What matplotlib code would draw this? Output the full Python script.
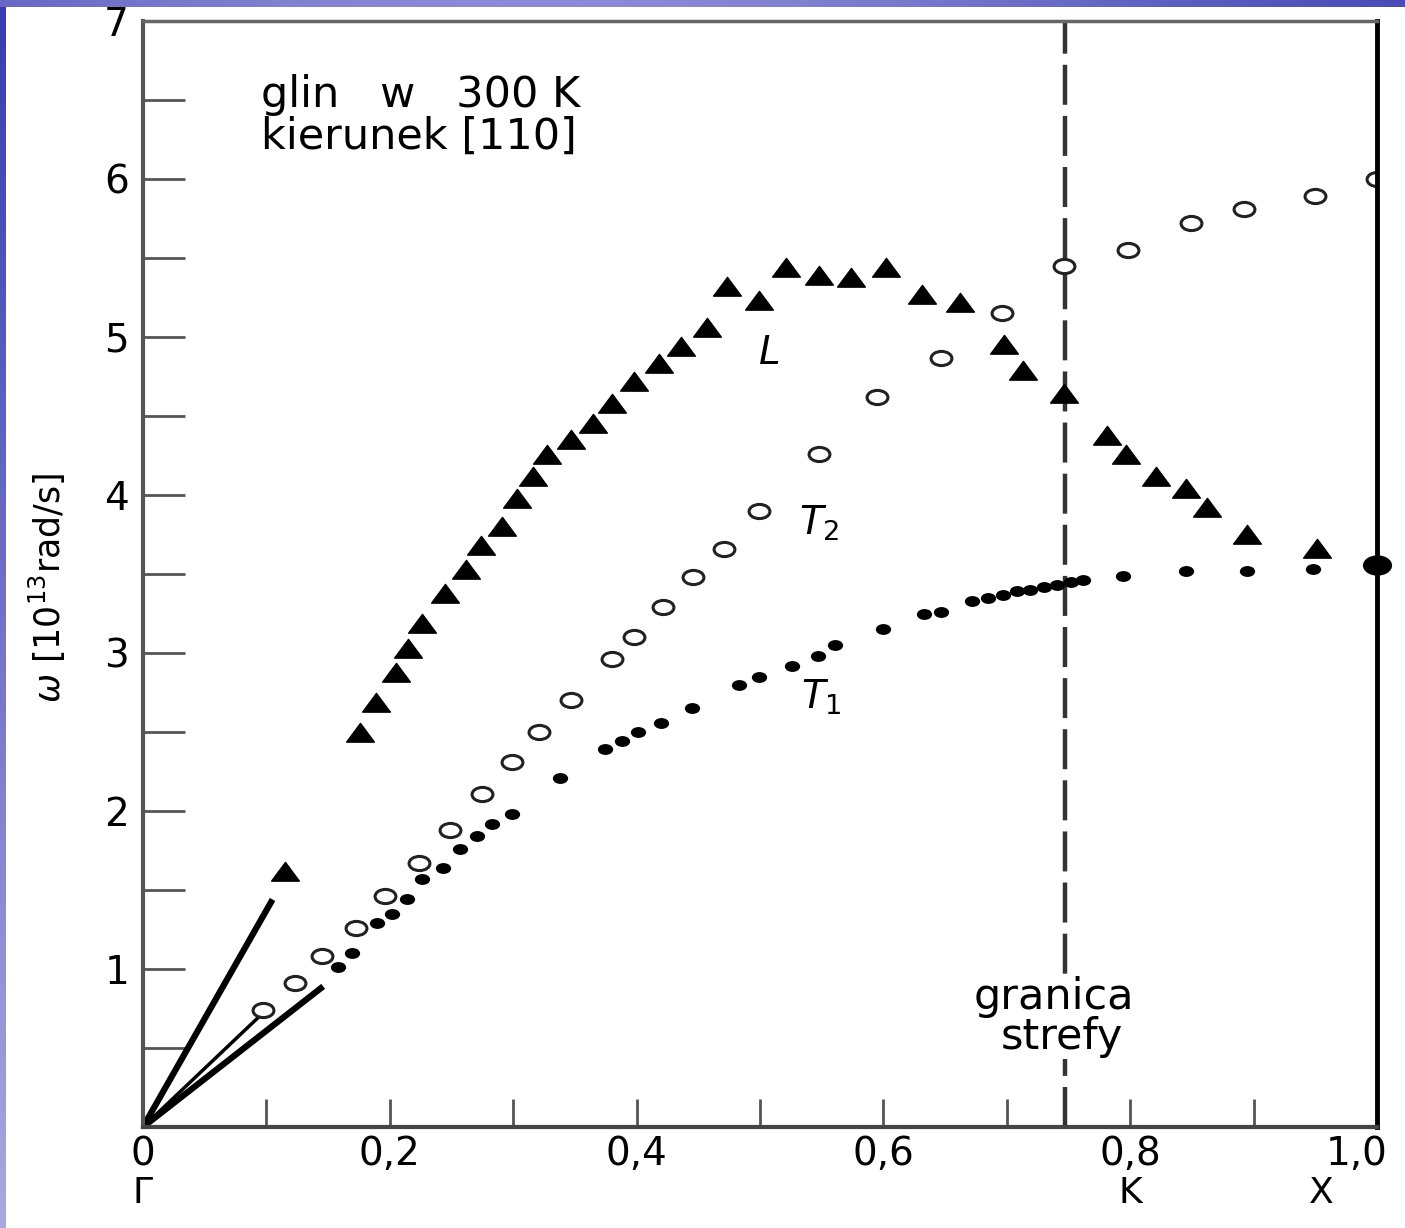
import matplotlib
matplotlib.use("Agg")
from matplotlib import pyplot as plt
from matplotlib.path import Path
from matplotlib.transforms import ScaledTranslation
import numpy as np

# reduced wave vector q and frequency omega [10^13 rad/s]
q_L = [0.115, 0.176, 0.189, 0.205, 0.215, 0.226, 0.245, 0.262, 0.274, 0.291,
       0.303, 0.316, 0.327, 0.347, 0.365, 0.380, 0.398, 0.418, 0.436, 0.457,
       0.473, 0.499, 0.521, 0.548, 0.574, 0.602, 0.631, 0.662, 0.698, 0.713,
       0.746, 0.781, 0.797, 0.821, 0.845, 0.862, 0.895, 0.951]
w_L = [1.61, 2.49, 2.68, 2.87, 3.02, 3.18, 3.37, 3.52, 3.67, 3.79,
       3.97, 4.11, 4.25, 4.34, 4.44, 4.57, 4.71, 4.82, 4.93, 5.05,
       5.31, 5.22, 5.43, 5.38, 5.37, 5.43, 5.26, 5.21, 4.94, 4.78,
       4.63, 4.37, 4.25, 4.11, 4.03, 3.91, 3.74, 3.65]

q_T2 = [0.097, 0.123, 0.145, 0.173, 0.196, 0.224, 0.249, 0.275, 0.299, 0.321,
        0.347, 0.380, 0.398, 0.421, 0.446, 0.471, 0.499, 0.548, 0.595, 0.647,
        0.696, 0.746, 0.798, 0.849, 0.892, 0.950, 1.000]
w_T2 = [0.74, 0.91, 1.08, 1.26, 1.46, 1.67, 1.88, 2.11, 2.31, 2.50,
        2.70, 2.96, 3.10, 3.29, 3.48, 3.66, 3.90, 4.26, 4.62, 4.87,
        5.15, 5.45, 5.55, 5.72, 5.81, 5.89, 6.00]

q_T1 = [0.158, 0.169, 0.190, 0.202, 0.214, 0.226, 0.243, 0.257, 0.271, 0.283,
        0.299, 0.338, 0.374, 0.388, 0.401, 0.420, 0.445, 0.483, 0.499, 0.526,
        0.547, 0.561, 0.600, 0.633, 0.647, 0.672, 0.685, 0.697, 0.708, 0.719,
        0.730, 0.741, 0.752, 0.762, 0.794, 0.845, 0.895, 0.948]
w_T1 = [1.01, 1.10, 1.29, 1.35, 1.44, 1.57, 1.64, 1.76, 1.84, 1.92,
        1.98, 2.21, 2.39, 2.44, 2.50, 2.56, 2.65, 2.80, 2.85, 2.92,
        2.98, 3.05, 3.15, 3.25, 3.26, 3.33, 3.35, 3.37, 3.39, 3.40,
        3.42, 3.43, 3.45, 3.46, 3.49, 3.52, 3.52, 3.53]

# point X where L and T1 meet
q_X = [1.0]
w_X = [3.56]

# initial slopes (sound velocity lines) drawn from Gamma
slope_ends_q = [0.105, 0.097, 0.146]
slope_ends_w = [1.44, 0.72, 0.89]
slope_widths = [4.5, 2.5, 4.5]

zone_edge = 0.747
x_ticks = [0, 0.2, 0.4, 0.6, 0.8, 1.0]
x_labels = ["0", "0,2", "0,4", "0,6", "0,8", "1,0"]
y_ticks = [1, 2, 3, 4, 5, 6, 7]

W, H = 1405, 1228
fig = plt.figure(figsize=(W / 100, H / 100), dpi=100)
fig.patch.set_facecolor("white")

# blue slide border (thin top band and left strip)
top = fig.add_axes([0, 1 - 7 / H, 1, 7 / H])
grad = np.linspace(0, 1, 256)
top.imshow(np.vstack([np.sin(grad * np.pi * 1.3) * 0.5 + 0.5] * 2),
           aspect="auto", cmap=matplotlib.colors.LinearSegmentedColormap.from_list(
               "b", ["#4c4cb8", "#8a8ad6"]))
top.axis("off")
left = fig.add_axes([0, 0, 6 / W, 1 - 7 / H])
left.imshow(np.linspace(0, 1, 64)[:, None], aspect="auto",
            cmap=matplotlib.colors.LinearSegmentedColormap.from_list(
                "l", ["#3c3cb0", "#a8a8e0"]))
left.axis("off")

ax = fig.add_axes([143 / W, (H - 1127) / H, (1377 - 143) / W, (1127 - 21) / H])
ax.set_xlim(0, 1.0)
ax.set_ylim(0, 7)

# squashed marker shapes like the scanned original
circ = Path.unit_circle()
ellipse = Path(circ.vertices * [1, 0.68], circ.codes)
tri = Path([(-1, -0.55), (1, -0.55), (0, 0.8), (-1, -0.55)],
           [Path.MOVETO, Path.LINETO, Path.LINETO, Path.CLOSEPOLY])

for qe, we, lw in zip(slope_ends_q, slope_ends_w, slope_widths):
    ax.plot([0, qe], [0, we], color="black", lw=lw, solid_capstyle="butt")

ax.plot(q_L, w_L, ls="none", marker=tri, ms=20, color="black")
ax.plot(q_T2, w_T2, ls="none", marker=ellipse, ms=15, mfc="white",
        mec="#222222", mew=2.2)
ax.plot(q_T1, w_T1, ls="none", marker=ellipse, ms=10, color="black")
ax.plot(q_X, w_X, ls="none", marker=ellipse, ms=20, color="black", clip_on=False)

ax.axvline(zone_edge, color="#333333", lw=3.2, dashes=(9, 2.5), zorder=1)

# frame
for side, c, lw in [("left", "#555555", 3), ("bottom", "#444444", 3),
                    ("top", "#666666", 2.5), ("right", "black", 3.5)]:
    ax.spines[side].set_color(c)
    ax.spines[side].set_linewidth(lw)

ax.set_xticks(x_ticks)
ax.set_xticklabels(x_labels)
ax.set_xticks(np.arange(0.1, 1.0, 0.2), minor=True)
ax.set_yticks(y_ticks)
ax.set_yticks(np.arange(0.5, 7, 1.0), minor=True)
ax.tick_params(axis="x", which="both", direction="in", length=20, width=2,
               color="#555555", labelsize=28, pad=6)
ax.tick_params(axis="y", which="both", direction="in", length=30, width=2,
               color="#555555", labelsize=28, pad=10)
last = ax.get_xticklabels()[-1]
last.set_transform(last.get_transform() + ScaledTranslation(-0.2, 0, fig.dpi_scale_trans))

ax.text(0, -0.42, "Γ", ha="center", va="center", fontsize=26)
ax.text(0.8, -0.42, "K", ha="center", va="center", fontsize=26)
ax.text(0.955, -0.42, "X", ha="center", va="center", fontsize=26)

ax.text(0.096, 6.53, "glin   w   300 K", fontsize=31, va="center", ha="left")
ax.text(0.096, 6.27, "kierunek [110]", fontsize=31, va="center", ha="left")

ax.text(0.508, 4.90, "L", fontsize=28, style="italic", ha="center", va="center")
ax.text(0.548, 3.82, "$T_2$", fontsize=28, ha="center", va="center")
ax.text(0.550, 2.72, "$T_1$", fontsize=28, ha="center", va="center")

ax.text(0.738, 0.82, "granica", fontsize=31, ha="center", va="center",
        bbox=dict(fc="white", ec="none", pad=1))
ax.text(0.745, 0.57, "strefy", fontsize=31, ha="center", va="center",
        bbox=dict(fc="white", ec="none", pad=1))

fig.text(47 / W, 1 - 588 / H, r"$\omega$ [10$^{13}$rad/s]", rotation=90,
         fontsize=25, ha="center", va="center")

fig.savefig("out.png", dpi=100)
